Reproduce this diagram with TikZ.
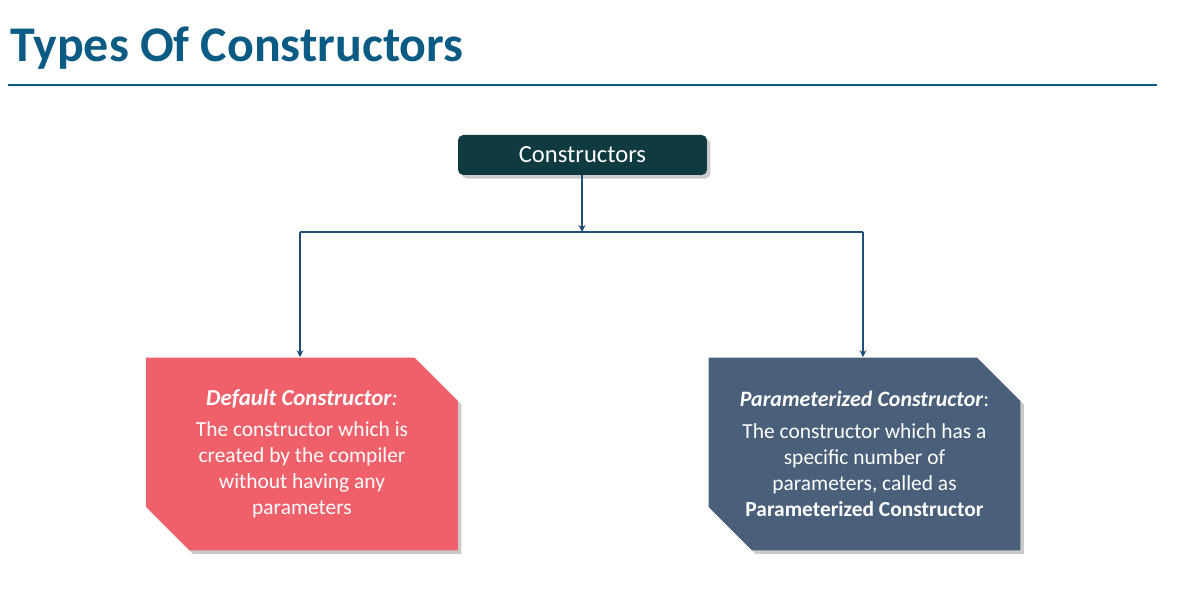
\documentclass[tikz,border=0pt]{standalone}
\usepackage{fontspec}
\setmainfont{Carlito}
\usetikzlibrary{arrows.meta,shapes.misc,shadows}

\definecolor{titleblue}{HTML}{0B5B84}
\definecolor{rootteal}{HTML}{0F3A3F}
\definecolor{linkblue}{HTML}{1F4E79}
\definecolor{defred}{HTML}{F0606A}
\definecolor{parslate}{HTML}{4A607A}

\tikzset{
  boxshadow/.style={drop shadow={shadow xshift=2pt,shadow yshift=-2pt,opacity=0.35,fill=black!60}},
  rootbox/.style={draw=none,fill=rootteal,rounded corners=3pt,text=white,
    minimum width=4.98cm,minimum height=0.8cm,font=\fontsize{14}{16}\selectfont,boxshadow},
  typebox/.style={chamfered rectangle,chamfered rectangle corners={north east,south west},
    chamfered rectangle xsep=0.76cm,draw=none,text=white,align=center,
    minimum width=6.24cm,minimum height=3.86cm,inner xsep=-0.8cm,inner ysep=0pt,
    font=\fontsize{12.2}{14.8}\selectfont,boxshadow},
  link/.style={linkblue,line width=1.1pt},
  linkarrow/.style={link,-{Stealth[length=4pt,width=4pt]}}
}

\begin{document}
\begin{tikzpicture}[x=0.02cm,y=-0.02cm]
\useasboundingbox (0,0) rectangle (1180,607);
% heading
\node[anchor=base west,inner sep=0pt,text=titleblue,font=\fontsize{28.4}{32}\bfseries] (title) at (10,62) {Types Of Constructors};
\draw[titleblue,line width=1.1pt] (8,85) coordinate (ruleL) -- (1157,85) coordinate (ruleR);
% tree
\node[rootbox] (root) at (582.5,155) {Constructors};
\node[typebox,fill=defred] (default) at (302,454)
  {{\fontsize{13}{15}\selectfont\textbf{\textit{Default Constructor}}\textit{:}}\\[3pt]
   The constructor which is\\created by the compiler\\without having any\\parameters};
\node[typebox,fill=parslate] (param) at (864.5,454)
  {{\fontsize{12.5}{15}\selectfont\textbf{\textit{Parameterized Constructor}}:}\\[3pt]
   The constructor which has a\\specific number of\\parameters, called as\\\textbf{Parameterized Constructor}};
\coordinate (split) at (582,232);
\coordinate (splitL) at (300,232);
\coordinate (splitR) at (863,232);
\draw[linkarrow] (root.south -| split) -- (split);
\draw[link] (splitL) -- (splitR);
\draw[linkarrow] (splitL) -- (splitL |- default.north);
\draw[linkarrow] (splitR) -- (splitR |- param.north);
\end{tikzpicture}
\end{document}
